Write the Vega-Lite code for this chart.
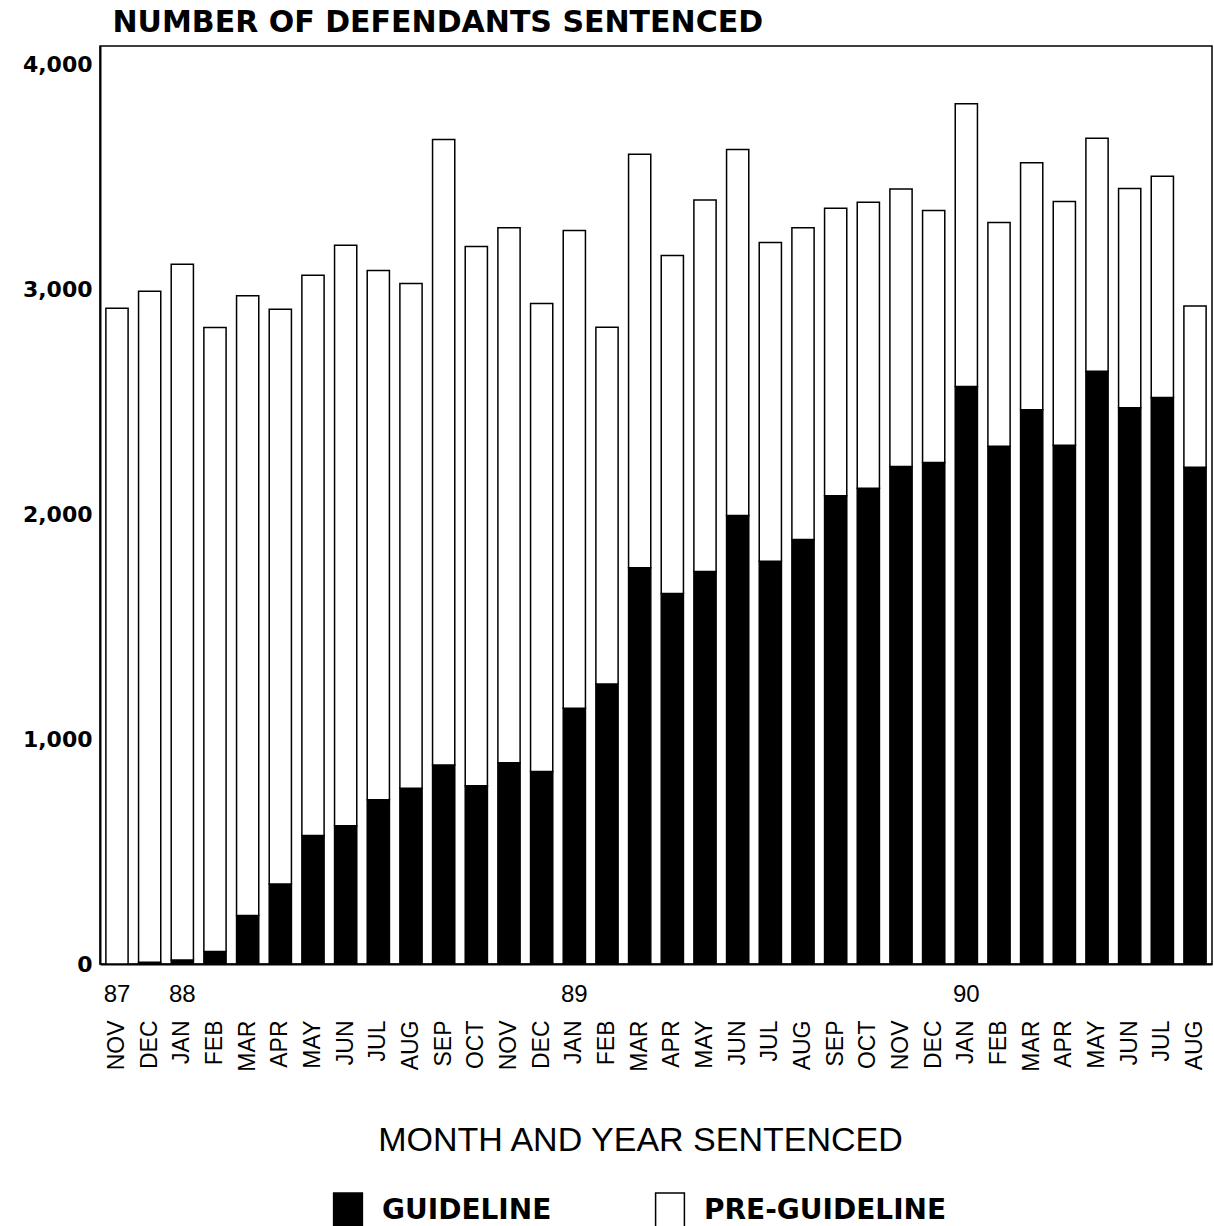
{
  "$schema": "https://vega.github.io/schema/vega-lite/v6.json",
  "width": 1112,
  "height": 918,
  "autosize": {"type": "none"},
  "padding": {"left": 100, "top": 46, "right": 2, "bottom": 262},
  "background": "white",
  "config": {
    "view": {"stroke": "black", "strokeWidth": 1.5, "fill": null},
    "axis": {"labelColor": "black", "titleColor": "black", "domainColor": "black", "domainWidth": 2, "ticks": false, "grid": false}
  },
  "data": {
    "values": [
      {"period": "NOV 87", "month": "NOV", "yearLabel": "87", "series": "GUIDELINE", "value": 0},
      {"period": "NOV 87", "month": "NOV", "yearLabel": "87", "series": "PRE-GUIDELINE", "value": 2915},
      {"period": "DEC 87", "month": "DEC", "yearLabel": "", "series": "GUIDELINE", "value": 8},
      {"period": "DEC 87", "month": "DEC", "yearLabel": "", "series": "PRE-GUIDELINE", "value": 2982},
      {"period": "JAN 88", "month": "JAN", "yearLabel": "88", "series": "GUIDELINE", "value": 18},
      {"period": "JAN 88", "month": "JAN", "yearLabel": "88", "series": "PRE-GUIDELINE", "value": 3092},
      {"period": "FEB 88", "month": "FEB", "yearLabel": "", "series": "GUIDELINE", "value": 56},
      {"period": "FEB 88", "month": "FEB", "yearLabel": "", "series": "PRE-GUIDELINE", "value": 2773},
      {"period": "MAR 88", "month": "MAR", "yearLabel": "", "series": "GUIDELINE", "value": 216},
      {"period": "MAR 88", "month": "MAR", "yearLabel": "", "series": "PRE-GUIDELINE", "value": 2754},
      {"period": "APR 88", "month": "APR", "yearLabel": "", "series": "GUIDELINE", "value": 356},
      {"period": "APR 88", "month": "APR", "yearLabel": "", "series": "PRE-GUIDELINE", "value": 2554},
      {"period": "MAY 88", "month": "MAY", "yearLabel": "", "series": "GUIDELINE", "value": 571},
      {"period": "MAY 88", "month": "MAY", "yearLabel": "", "series": "PRE-GUIDELINE", "value": 2490},
      {"period": "JUN 88", "month": "JUN", "yearLabel": "", "series": "GUIDELINE", "value": 614},
      {"period": "JUN 88", "month": "JUN", "yearLabel": "", "series": "PRE-GUIDELINE", "value": 2581},
      {"period": "JUL 88", "month": "JUL", "yearLabel": "", "series": "GUIDELINE", "value": 730},
      {"period": "JUL 88", "month": "JUL", "yearLabel": "", "series": "PRE-GUIDELINE", "value": 2352},
      {"period": "AUG 88", "month": "AUG", "yearLabel": "", "series": "GUIDELINE", "value": 781},
      {"period": "AUG 88", "month": "AUG", "yearLabel": "", "series": "PRE-GUIDELINE", "value": 2243},
      {"period": "SEP 88", "month": "SEP", "yearLabel": "", "series": "GUIDELINE", "value": 885},
      {"period": "SEP 88", "month": "SEP", "yearLabel": "", "series": "PRE-GUIDELINE", "value": 2779},
      {"period": "OCT 88", "month": "OCT", "yearLabel": "", "series": "GUIDELINE", "value": 792},
      {"period": "OCT 88", "month": "OCT", "yearLabel": "", "series": "PRE-GUIDELINE", "value": 2397},
      {"period": "NOV 88", "month": "NOV", "yearLabel": "", "series": "GUIDELINE", "value": 894},
      {"period": "NOV 88", "month": "NOV", "yearLabel": "", "series": "PRE-GUIDELINE", "value": 2378},
      {"period": "DEC 88", "month": "DEC", "yearLabel": "", "series": "GUIDELINE", "value": 856},
      {"period": "DEC 88", "month": "DEC", "yearLabel": "", "series": "PRE-GUIDELINE", "value": 2080},
      {"period": "JAN 89", "month": "JAN", "yearLabel": "89", "series": "GUIDELINE", "value": 1137},
      {"period": "JAN 89", "month": "JAN", "yearLabel": "89", "series": "PRE-GUIDELINE", "value": 2123},
      {"period": "FEB 89", "month": "FEB", "yearLabel": "", "series": "GUIDELINE", "value": 1245},
      {"period": "FEB 89", "month": "FEB", "yearLabel": "", "series": "PRE-GUIDELINE", "value": 1585},
      {"period": "MAR 89", "month": "MAR", "yearLabel": "", "series": "GUIDELINE", "value": 1761},
      {"period": "MAR 89", "month": "MAR", "yearLabel": "", "series": "PRE-GUIDELINE", "value": 1838},
      {"period": "APR 89", "month": "APR", "yearLabel": "", "series": "GUIDELINE", "value": 1647},
      {"period": "APR 89", "month": "APR", "yearLabel": "", "series": "PRE-GUIDELINE", "value": 1502},
      {"period": "MAY 89", "month": "MAY", "yearLabel": "", "series": "GUIDELINE", "value": 1744},
      {"period": "MAY 89", "month": "MAY", "yearLabel": "", "series": "PRE-GUIDELINE", "value": 1652},
      {"period": "JUN 89", "month": "JUN", "yearLabel": "", "series": "GUIDELINE", "value": 1993},
      {"period": "JUN 89", "month": "JUN", "yearLabel": "", "series": "PRE-GUIDELINE", "value": 1627},
      {"period": "JUL 89", "month": "JUL", "yearLabel": "", "series": "GUIDELINE", "value": 1790},
      {"period": "JUL 89", "month": "JUL", "yearLabel": "", "series": "PRE-GUIDELINE", "value": 1417},
      {"period": "AUG 89", "month": "AUG", "yearLabel": "", "series": "GUIDELINE", "value": 1887},
      {"period": "AUG 89", "month": "AUG", "yearLabel": "", "series": "PRE-GUIDELINE", "value": 1385},
      {"period": "SEP 89", "month": "SEP", "yearLabel": "", "series": "GUIDELINE", "value": 2081},
      {"period": "SEP 89", "month": "SEP", "yearLabel": "", "series": "PRE-GUIDELINE", "value": 1278},
      {"period": "OCT 89", "month": "OCT", "yearLabel": "", "series": "GUIDELINE", "value": 2115},
      {"period": "OCT 89", "month": "OCT", "yearLabel": "", "series": "PRE-GUIDELINE", "value": 1271},
      {"period": "NOV 89", "month": "NOV", "yearLabel": "", "series": "GUIDELINE", "value": 2211},
      {"period": "NOV 89", "month": "NOV", "yearLabel": "", "series": "PRE-GUIDELINE", "value": 1233},
      {"period": "DEC 89", "month": "DEC", "yearLabel": "", "series": "GUIDELINE", "value": 2229},
      {"period": "DEC 89", "month": "DEC", "yearLabel": "", "series": "PRE-GUIDELINE", "value": 1120},
      {"period": "JAN 90", "month": "JAN", "yearLabel": "90", "series": "GUIDELINE", "value": 2567},
      {"period": "JAN 90", "month": "JAN", "yearLabel": "90", "series": "PRE-GUIDELINE", "value": 1256},
      {"period": "FEB 90", "month": "FEB", "yearLabel": "", "series": "GUIDELINE", "value": 2301},
      {"period": "FEB 90", "month": "FEB", "yearLabel": "", "series": "PRE-GUIDELINE", "value": 995},
      {"period": "MAR 90", "month": "MAR", "yearLabel": "", "series": "GUIDELINE", "value": 2463},
      {"period": "MAR 90", "month": "MAR", "yearLabel": "", "series": "PRE-GUIDELINE", "value": 1098},
      {"period": "APR 90", "month": "APR", "yearLabel": "", "series": "GUIDELINE", "value": 2306},
      {"period": "APR 90", "month": "APR", "yearLabel": "", "series": "PRE-GUIDELINE", "value": 1083},
      {"period": "MAY 90", "month": "MAY", "yearLabel": "", "series": "GUIDELINE", "value": 2635},
      {"period": "MAY 90", "month": "MAY", "yearLabel": "", "series": "PRE-GUIDELINE", "value": 1035},
      {"period": "JUN 90", "month": "JUN", "yearLabel": "", "series": "GUIDELINE", "value": 2472},
      {"period": "JUN 90", "month": "JUN", "yearLabel": "", "series": "PRE-GUIDELINE", "value": 975},
      {"period": "JUL 90", "month": "JUL", "yearLabel": "", "series": "GUIDELINE", "value": 2518},
      {"period": "JUL 90", "month": "JUL", "yearLabel": "", "series": "PRE-GUIDELINE", "value": 983},
      {"period": "AUG 90", "month": "AUG", "yearLabel": "", "series": "GUIDELINE", "value": 2208},
      {"period": "AUG 90", "month": "AUG", "yearLabel": "", "series": "PRE-GUIDELINE", "value": 716}
    ]
  },
  "layer": [
    {
      "mark": {"type": "bar", "stroke": "black", "strokeWidth": 1.5},
      "encoding": {
        "x": {
          "field": "period", "type": "nominal", "sort": null,
          "scale": {"paddingInner": 0.32, "paddingOuter": 0.18},
          "axis": {
            "labelExpr": "slice(datum.label, 0, 3)",
            "labelAngle": -90,
            "labelPadding": 56,
            "labelFont": "Liberation Sans",
            "labelFontSize": 23,
            "title": "MONTH AND YEAR SENTENCED",
            "titleFont": "Liberation Sans",
            "titleFontSize": 34,
            "titleFontWeight": "normal",
            "titleX": 540,
            "titleY": 186,
            "titleAlign": "center",
            "titleBaseline": "alphabetic"
          }
        },
        "y": {
          "field": "value", "type": "quantitative", "stack": "zero",
          "scale": {"domain": [0, 4080], "nice": false},
          "axis": {
            "values": [0, 1000, 2000, 3000, 4000],
            "format": ",d",
            "labelFont": "DejaVu Sans",
            "labelFontWeight": "bold",
            "labelFontSize": 22,
            "labelPadding": 8,
            "title": "NUMBER OF DEFENDANTS SENTENCED",
            "titleAngle": 0,
            "titleX": 12,
            "titleY": -15,
            "titleAlign": "left",
            "titleBaseline": "alphabetic",
            "titleFont": "DejaVu Sans",
            "titleFontWeight": "bold",
            "titleFontSize": 30
          }
        },
        "order": {"field": "series", "sort": "ascending"},
        "color": {
          "field": "series", "type": "nominal",
          "scale": {"domain": ["GUIDELINE", "PRE-GUIDELINE"], "range": ["black", "white"]},
          "legend": {
            "orient": "none",
            "legendX": 229,
            "legendY": 1146,
            "direction": "horizontal",
            "title": null,
            "padding": 0,
            "symbolType": "M-0.8,-1H0.8V1H-0.8Z",
            "symbolSize": 1296,
            "symbolStrokeColor": "black",
            "symbolStrokeWidth": 1.5,
            "labelFont": "DejaVu Sans",
            "labelFontWeight": "bold",
            "labelFontSize": 28,
            "labelColor": "black",
            "labelOffset": 15,
            "columnPadding": 99,
            "labelLimit": 400
          }
        }
      }
    },
    {
      "transform": [{"filter": "datum.series == 'GUIDELINE' && datum.yearLabel != ''"}],
      "mark": {"type": "text", "font": "Liberation Sans", "fontSize": 24, "baseline": "alphabetic", "align": "center", "dy": 38, "color": "black"},
      "encoding": {
        "x": {"field": "period", "type": "nominal", "sort": null},
        "y": {"datum": 0},
        "text": {"field": "yearLabel"}
      }
    }
  ]
}
